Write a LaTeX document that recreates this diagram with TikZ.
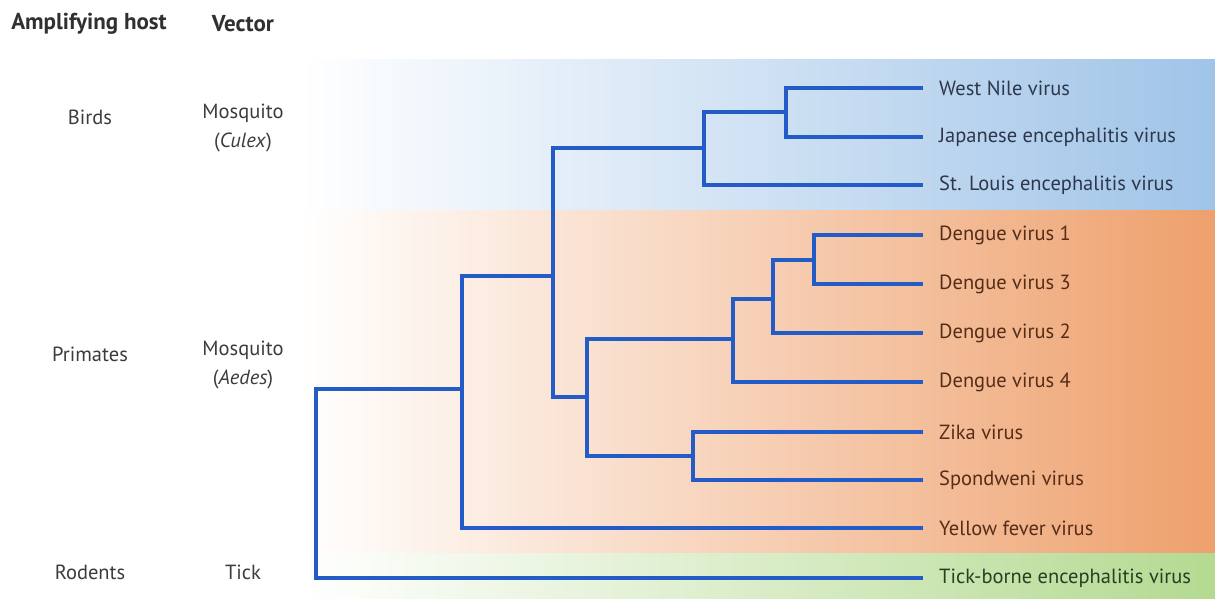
\documentclass[tikz,border=0pt]{standalone}
\usepackage{fontspec}
\setmainfont{PT Sans}
\definecolor{bandblue}{RGB}{160,196,232}
\definecolor{bandorange}{RGB}{238,160,108}
\definecolor{bandgreen}{RGB}{180,218,145}
\definecolor{treeblue}{RGB}{35,92,198}
\definecolor{labelgrey}{RGB}{60,60,60}
\definecolor{textblue}{RGB}{45,55,75}
\definecolor{textbrown}{RGB}{85,45,25}
\definecolor{textgreen}{RGB}{35,65,35}
\tikzset{
  branch/.style={draw=treeblue, line width=3.4pt, line join=miter},
  leaflabel/.style={anchor=west, inner sep=0pt, font=\fontsize{20.5}{29}\selectfont},
  sidelabel/.style={inner sep=0pt, text=labelgrey, align=center, font=\fontsize{20.5}{29}\selectfont},
  headlabel/.style={inner sep=0pt, text=labelgrey!80!black, font=\bfseries\fontsize{23}{27}\selectfont},
}
\begin{document}
\begin{tikzpicture}[x=1pt, y=-1pt]
\useasboundingbox (0,0) rectangle (1215,599);

% host bands, fading in from the left
\shade[left color=white, middle color=bandblue!75!white, right color=bandblue] (300,60) rectangle (1215,210);
\shade[left color=white, middle color=bandorange!74!white, right color=bandorange] (300,210) rectangle (1215,553);
\shade[left color=white, middle color=bandgreen!75!white, right color=bandgreen] (300,553) rectangle (1215,599);

% column headings
\node[headlabel] (hhost) at (89,24) {Amplifying host};
\node[headlabel] (hvec) at (243,24) {Vector};

% host / vector rows
\node[sidelabel] (birds) at (90,117) {Birds};
\node[sidelabel, anchor=north] (culex) at (243,104) {Mosquito\\(\textit{Culex})};
\node[sidelabel] (primates) at (90,354) {Primates};
\node[sidelabel, anchor=north] (aedes) at (243,341) {Mosquito\\(\textit{Aedes})};
\node[sidelabel] (rodents) at (90,572) {Rodents};
\node[sidelabel] (tick) at (243,572) {Tick};

% leaf tips
\coordinate (l1) at (923,88);
\coordinate (l2) at (923,137);
\coordinate (l3) at (923,185);
\coordinate (l4) at (923,235);
\coordinate (l5) at (923,284);
\coordinate (l6) at (923,333);
\coordinate (l7) at (923,382);
\coordinate (l8) at (923,432);
\coordinate (l9) at (923,480);
\coordinate (l10) at (923,528);
\coordinate (l11) at (923,578);

% leaf labels
\node[leaflabel, text=textblue] (t1) at (939,88) {West Nile virus};
\node[leaflabel, text=textblue] (t2) at (939,137) {Japanese encephalitis virus};
\node[leaflabel, text=textblue] (t3) at (939,185) {St. Louis encephalitis virus};
\node[leaflabel, text=textbrown] (t4) at (939,235) {Dengue virus 1};
\node[leaflabel, text=textbrown] (t5) at (939,284) {Dengue virus 3};
\node[leaflabel, text=textbrown] (t6) at (939,333) {Dengue virus 2};
\node[leaflabel, text=textbrown] (t7) at (939,382) {Dengue virus 4};
\node[leaflabel, text=textbrown] (t8) at (939,432) {Zika virus};
\node[leaflabel, text=textbrown] (t9) at (939,480) {Spondweni virus};
\node[leaflabel, text=textbrown] (t10) at (939,528) {Yellow fever virus};
\node[leaflabel, text=textgreen] (t11) at (939,578) {Tick-borne encephalitis virus};

% internal nodes
\coordinate (n1) at (786,112);
\coordinate (n2) at (704,148);
\coordinate (n3) at (814,260);
\coordinate (n4) at (773,299);
\coordinate (n5) at (733,339);
\coordinate (n6) at (693,456);
\coordinate (n7) at (587,397);
\coordinate (n8) at (553,276);
\coordinate (n9) at (462,389);
\coordinate (n10) at (316,480);

% branches: child tip/node horizontally to parent's x, then vertically to parent
\draw[branch] (l1) -| (n1) |- (l2);
\draw[branch] (n1) -| (n2) |- (l3);
\draw[branch] (l4) -| (n3) |- (l5);
\draw[branch] (n3) -| (n4) |- (l6);
\draw[branch] (n4) -| (n5) |- (l7);
\draw[branch] (l8) -| (n6) |- (l9);
\draw[branch] (n5) -| (n7) |- (n6);
\draw[branch] (n2) -| (n8) |- (n7);
\draw[branch] (n8) -| (n9) |- (l10);
\draw[branch] (n9) -| (n10) |- (l11);
\end{tikzpicture}
\end{document}
